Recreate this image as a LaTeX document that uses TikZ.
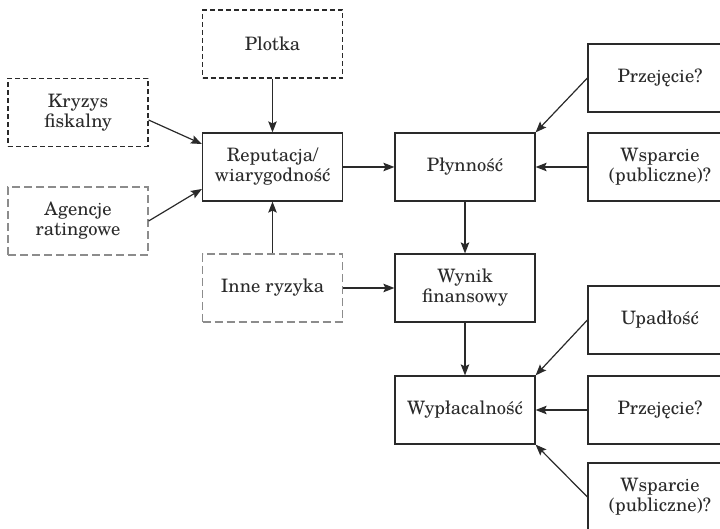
\documentclass[tikz,border=0pt]{standalone}
\usepackage{fontspec}
\setmainfont{TeX Gyre Schola}
\usetikzlibrary{arrows.meta,calc}
\definecolor{ink}{HTML}{2A2A2A}
\definecolor{dgray}{HTML}{8C8C8C}
\tikzset{
  box/.style={draw=ink, line width=1.2pt, minimum width=140pt, minimum height=68pt,
    inner sep=0pt, align=center, text=ink, font=\fontsize{18.5}{20}\selectfont},
  rbox/.style={box, minimum width=144pt},
  dbox/.style={box, dash pattern=on 5pt off 3pt},
  gbox/.style={box, draw=dgray, dash pattern=on 8pt off 4pt},
  conn/.style={draw=ink, line width=1.2pt, -{Stealth[length=11pt,width=8.5pt,inset=2pt]}},
}
\begin{document}
\begin{tikzpicture}[x=1pt,y=-1pt]
\useasboundingbox (0,0) rectangle (720,529);
\clip (0,0) rectangle (720,529);
\node[dbox] (plotka) at (272.5,44) {Plotka};
\node[dbox] (kryzys) at (78,112.5) {Kryzys\\fiskalny};
\node[gbox] (agencje) at (78,221) {Agencje\\ratingowe};
\node[box] (rep) at (272.5,167) {Reputacja/\\wiarygodność};
\node[gbox] (inne) at (272.5,288) {Inne ryzyka};
\node[box] (plyn) at (465,167) {Płynność};
\node[box] (wynik) at (465,288) {Wynik\\finansowy};
\node[box] (wypl) at (465,410) {Wypłacalność};
\node[rbox] (przej1) at (660,78) {Przejęcie?};
\node[rbox] (wsp1) at (660,167) {Wsparcie\\(publiczne)?};
\node[rbox] (upad) at (660,320) {Upadłość};
\node[rbox] (przej2) at (660,410) {Przejęcie?};
\node[rbox] (wsp2) at (660,497) {Wsparcie\\(publiczne)?};
\draw[conn] (plotka.south) -- (rep.north);
\draw[conn] ([yshift=-7.5pt]kryzys.east) -- ([yshift=23pt]rep.west);
\draw[conn] (agencje.east) -- ([yshift=-22pt]rep.west);
\draw[conn] (inne.north) -- (rep.south);
\draw[conn] (rep.east) -- (plyn.west);
\draw[conn] (inne.east) -- (wynik.west);
\draw[conn] (plyn.south) -- (wynik.north);
\draw[conn] (wynik.south) -- (wypl.north);
\draw[conn] (przej1.west) -- (plyn.north east);
\draw[conn] (wsp1.west) -- (plyn.east);
\draw[conn] (upad.west) -- (wypl.north east);
\draw[conn] (przej2.west) -- (wypl.east);
\draw[conn] (wsp2.west) -- (wypl.south east);
\end{tikzpicture}
\end{document}
